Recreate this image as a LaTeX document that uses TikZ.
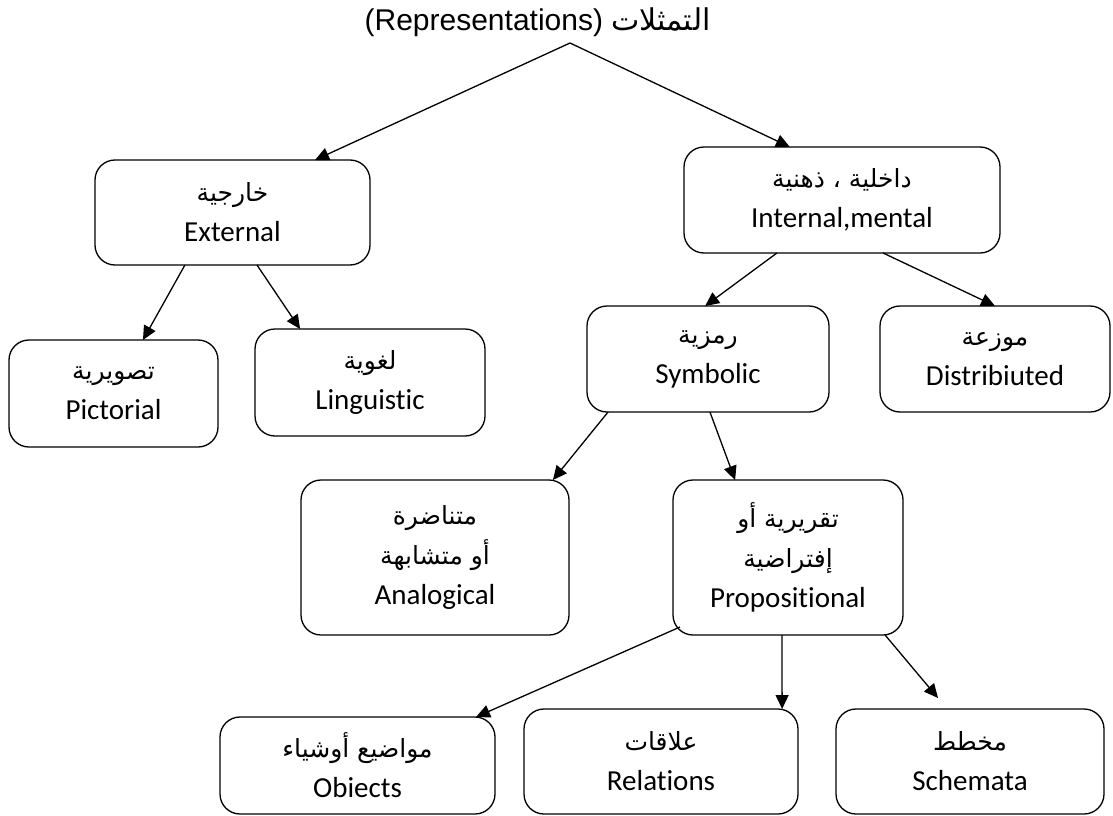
\documentclass[tikz,border=0pt]{standalone}
\usepackage{fontspec}
\setmainfont{Carlito}[Ligatures=NoCommon]
\newfontfamily\arfont[Script=Arabic]{DejaVu Sans}
\newfontfamily\titlefont{Liberation Sans}
\TeXXeTstate=1
\usetikzlibrary{arrows.meta,calc}
\newcommand{\artext}[1]{{\arfont\fontsize{25}{40}\selectfont\beginR #1\endR}}

\tikzset{
  box/.style={draw, line width=1.3pt, rounded corners=20pt, outer sep=0pt,
    inner sep=0pt, align=center, font=\fontsize{29}{40}\selectfont},
  arr/.style={line width=1.3pt, -{Triangle[length=14pt,width=13pt]}},
}

\begin{document}
\begin{tikzpicture}[x=1pt,y=-1pt]
\useasboundingbox (0,0) rectangle (1113,816);

% heading and the point the two main branches leave from
\node[anchor=east] (title) at (714,22) {{\titlefont\fontsize{30}{36}\selectfont (Representations) }{\arfont\fontsize{30}{36}\selectfont\beginR التمثلات\endR}};
\coordinate (apex) at (570,43);

% first level
\node[box, minimum width=275pt, minimum height=105pt] (ext) at (232.5,212.5) {\artext{خارجية}\\External};
\node[box, minimum width=316pt, minimum height=106pt] (int) at (842,200) {\artext{داخلية ، ذهنية}\\Internal,mental};

% second level
\node[box, minimum width=209pt, minimum height=107pt] (pic) at (113.5,393.5) {\artext{تصويرية}\\Pictorial};
\node[box, minimum width=230pt, minimum height=107pt] (lin) at (370,382.5) {\artext{لغوية}\\Linguistic};
\node[box, minimum width=242pt, minimum height=106pt] (sym) at (708,359) {\artext{رمزية}\\Symbolic};
\node[box, minimum width=230pt, minimum height=106pt] (dis) at (995,359) {\artext{موزعة}\\Distribiuted};

% third level
\node[box, minimum width=268pt, minimum height=155pt] (ana) at (435,557.5) {\artext{متناضرة}\\\artext{أو متشابهة}\\Analogical};
\node[box, minimum width=230pt, minimum height=155pt] (pro) at (788,557.5) {\artext{تقريرية أو}\\\artext{إفتراضية}\\Propositional};

% fourth level
\node[box, minimum width=275pt, minimum height=97pt] (obj) at (357.5,765.5) {\artext{مواضيع أوشياء}\\Obiects};
\node[box, minimum width=274pt, minimum height=105pt] (rel) at (661,761.5) {\artext{علاقات}\\Relations};
\node[box, minimum width=268pt, minimum height=105pt] (sch) at (970,761.5) {\artext{مخطط}\\Schemata};
\coordinate (schtip) at (938,698);

% connectors
\draw[arr] (apex) -- ($(ext.north west)!0.80!(ext.north east)$);
\draw[arr] (apex) -- ($(int.north west)!0.335!(int.north east)$);
\draw[arr] ($(ext.south west)!0.327!(ext.south east)$) -- ($(pic.north west)!0.641!(pic.north east)$);
\draw[arr] ($(ext.south west)!0.589!(ext.south east)$) -- ($(lin.north west)!0.196!(lin.north east)$);
\draw[arr] ($(int.south west)!0.294!(int.south east)$) -- ($(sym.north west)!0.488!(sym.north east)$);
\draw[arr] ($(int.south west)!0.630!(int.south east)$) -- ($(dis.north west)!0.50!(dis.north east)$);
\draw[arr] ($(sym.south west)!0.087!(sym.south east)$) -- ($(ana.north west)!0.94!(ana.north east)$);
\draw[arr] ($(sym.south west)!0.508!(sym.south east)$) -- ($(pro.north west)!0.27!(pro.north east)$);
\draw[arr] ($(pro.south west)+(7,-8)$) -- ($(obj.north west)!0.931!(obj.north east)$);
\draw[arr] ($(pro.south west)!0.474!(pro.south east)$) -- ($(rel.north west)!0.942!(rel.north east)$);
\draw[arr] ($(pro.south west)!0.922!(pro.south east)$) -- (schtip);
\end{tikzpicture}
\end{document}
